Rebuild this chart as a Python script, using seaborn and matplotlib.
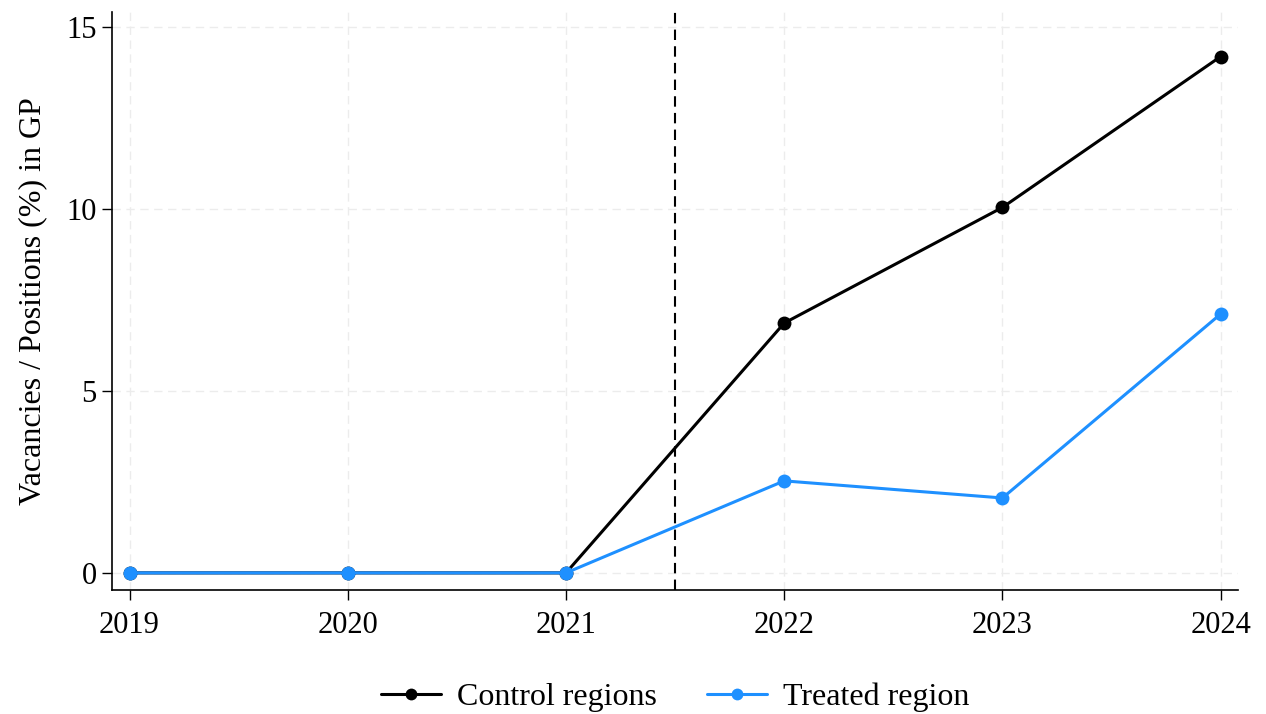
import matplotlib
matplotlib.use("Agg")
import matplotlib.pyplot as plt
import seaborn as sns
import pandas as pd

years = [2019, 2020, 2021, 2022, 2023, 2024]
control_regions = [0.0, 0.0, 0.0, 6.87, 10.05, 14.2]
treated_region = [0.0, 0.0, 0.0, 2.53, 2.06, 7.12]
series_names = ["Control regions", "Treated region"]
y_ticks = [0, 5, 10, 15]
reform_year = 2021.5

df = pd.DataFrame({
    "year": years * 2,
    "value": control_regions + treated_region,
    "group": [series_names[0]] * len(years) + [series_names[1]] * len(years),
})

sns.set_theme(style="white")
plt.rcParams["font.family"] = ["Liberation Serif", "DejaVu Serif"]
plt.rcParams["text.color"] = "black"
plt.rcParams["axes.labelcolor"] = "black"
plt.rcParams["xtick.color"] = "black"
plt.rcParams["ytick.color"] = "black"

fig = plt.figure(figsize=(12.66, 7.14), dpi=100)
ax = fig.add_axes([0.0885, 0.1737, 0.8895, 0.8093])

sns.lineplot(
    data=df, x="year", y="value", hue="group",
    palette={series_names[0]: "black", series_names[1]: "#1E90FF"},
    marker="o", markersize=10, markeredgewidth=0, linewidth=2.2,
    ax=ax, legend=True,
)

ax.axvline(reform_year, color="black", linestyle=(0, (5, 3)), linewidth=1.5, zorder=1)

ax.set_xlim(2018.92, 2024.08)
ax.set_ylim(-0.47, 15.42)
ax.set_xticks(years)
ax.set_xticklabels([str(y) for y in years])
ax.set_yticks(y_ticks)
ax.set_xlabel("")
ax.set_ylabel("Vacancies / Positions (%) in GP", fontsize=23, labelpad=14)
ax.tick_params(axis="both", labelsize=22, direction="out", length=7, width=1, color="black",
               bottom=True, left=True)
ax.tick_params(axis="x", pad=8)
ax.tick_params(axis="y", pad=4)

ax.grid(True, color="#ececec", linestyle=(0, (6, 4)), linewidth=1)
ax.set_axisbelow(True)
for side in ["top", "right"]:
    ax.spines[side].set_visible(False)
for side in ["left", "bottom"]:
    ax.spines[side].set_color("black")
    ax.spines[side].set_linewidth(1.2)

handles, labels = ax.get_legend_handles_labels()
ax.legend(handles, labels, loc="upper center", bbox_to_anchor=(0.5, -0.11),
          ncol=2, frameon=False, fontsize=23, handlelength=1.9, handletextpad=0.5,
          columnspacing=1.55, markerscale=0.85)

fig.savefig("out.png", dpi=100)
